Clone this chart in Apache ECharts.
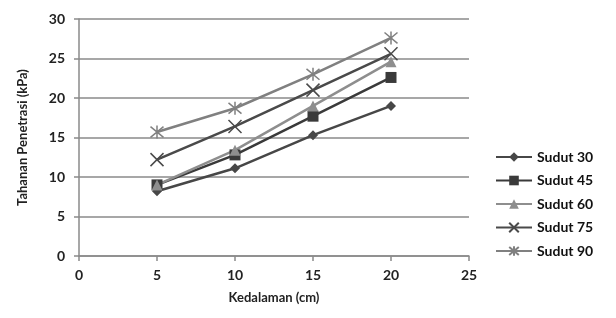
<!DOCTYPE html>
<html><head><meta charset="utf-8">
<script src="https://cdn.jsdelivr.net/npm/echarts@6/dist/echarts.min.js"></script>
<style>html,body{margin:0;padding:0;background:#fff}#c{width:616px;height:318px}</style>
</head><body><div id="c"></div>
<script>
var depths = [5, 10, 15, 20];
var sudut30 = [8.2, 11.1, 15.3, 19.0];
var sudut45 = [9.0, 12.8, 17.7, 22.6];
var sudut60 = [9.0, 13.4, 19.0, 24.6];
var sudut75 = [12.2, 16.4, 21.0, 25.6];
var sudut90 = [15.7, 18.7, 23.0, 27.6];
var seriesNames = ['Sudut 30', 'Sudut 45', 'Sudut 60', 'Sudut 75', 'Sudut 90'];
var xTicks = [0, 5, 10, 15, 20, 25];
var yTicks = [0, 5, 10, 15, 20, 25, 30];

var font = 'Lato, "Open Sans", sans-serif';
var allData = [sudut30, sudut45, sudut60, sudut75, sudut90];
var colors = ['#474747', '#3a3a3a', '#8e8e8e', '#4a4a4a', '#808080'];
var symbols = ['diamond', 'rect', 'triangle',
  'path://M0,0L10,10M10,0L0,10',
  'path://M0,0L10,10M10,0L0,10M5,-1L5,11'];
var sizes = [10, 11, 11, 13, 13];

var series = allData.map(function (vals, i) {
  var stroke = i >= 3;
  return {
    name: seriesNames[i], type: 'line',
    data: depths.map(function (d, j) { return [d, vals[j]]; }),
    symbol: symbols[i], symbolSize: sizes[i],
    lineStyle: { color: colors[i], width: 2.5 },
    itemStyle: stroke ? { color: 'rgba(0,0,0,0)', borderColor: colors[i], borderWidth: 1.5 } : { color: colors[i] },
    emphasis: { disabled: true }
  };
});

var chart = echarts.init(document.getElementById('c'), null, { renderer: 'canvas' });
chart.setOption({
  animation: false,
  backgroundColor: '#fff',
  grid: { left: 79, right: 147, top: 19, bottom: 62 },
  legend: {
    orient: 'vertical', left: 490, top: 145, itemGap: 9.5,
    itemWidth: 36, itemHeight: 12,
    data: seriesNames,
    textStyle: { fontFamily: font, fontSize: 14, color: '#111', fontWeight: 'bold' }
  },
  xAxis: {
    type: 'value', min: xTicks[0], max: xTicks[xTicks.length - 1], interval: 5,
    name: 'Kedalaman (cm)', nameLocation: 'middle', nameGap: 35,
    nameTextStyle: { fontFamily: font, fontSize: 13, fontWeight: 'bold', color: '#222' },
    axisLine: { lineStyle: { color: '#8a8a8a', width: 1.5 } },
    axisTick: { show: true, length: 5, lineStyle: { color: '#8a8a8a', width: 1.5 } },
    axisLabel: { fontFamily: font, fontSize: 14, fontWeight: 'bold', color: '#222', margin: 12 },
    splitLine: { show: false }
  },
  yAxis: {
    type: 'value', min: yTicks[0], max: yTicks[yTicks.length - 1], interval: 5,
    name: 'Tahanan Penetrasi (kPa)', nameLocation: 'middle', nameGap: 50, nameRotate: 90,
    nameTextStyle: { fontFamily: font, fontSize: 13, fontWeight: 'bold', color: '#222' },
    axisLine: { show: true, lineStyle: { color: '#8a8a8a', width: 1.5 } },
    axisTick: { show: true, length: 5, lineStyle: { color: '#8a8a8a', width: 1.5 } },
    axisLabel: { fontFamily: font, fontSize: 14, fontWeight: 'bold', color: '#222', margin: 14 },
    splitLine: { show: true, lineStyle: { color: '#8a8a8a', width: 1.5 } }
  },
  series: series
});
</script></body></html>
